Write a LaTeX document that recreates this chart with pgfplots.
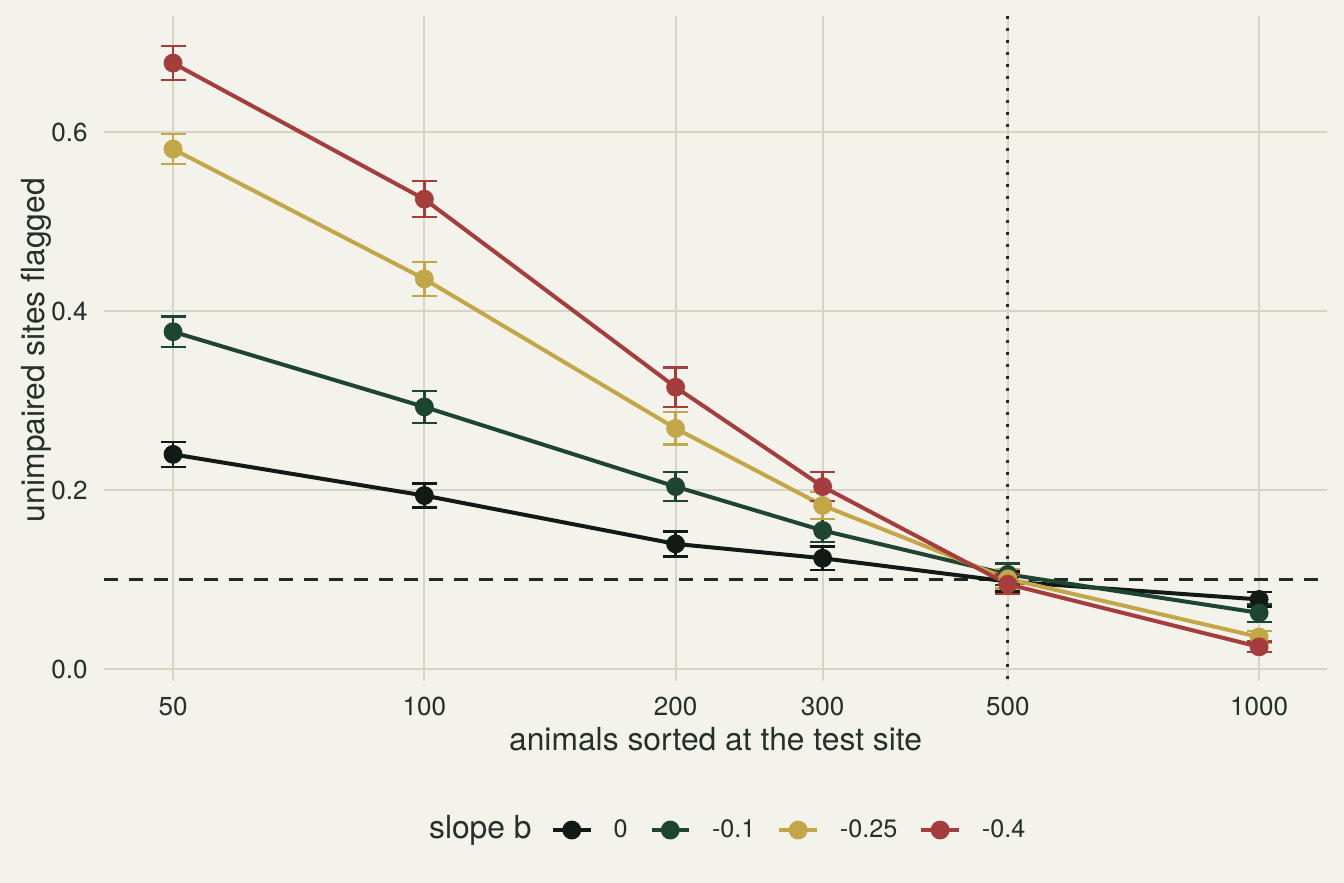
\documentclass[border=0pt]{standalone}
\usepackage{fontspec}
\setmainfont{TeX Gyre Heros}
\usepackage{pgfplots}
\usepackage{pgfplotstable}
\pgfplotsset{compat=1.18}

\definecolor{bgc}{HTML}{F3F2EB}
\definecolor{gridc}{HTML}{D6D5C4}
\definecolor{txt}{HTML}{26302A}
\definecolor{refc}{HTML}{1E2A22}
\definecolor{s0}{HTML}{111A15}
\definecolor{s1}{HTML}{1E4531}
\definecolor{s2}{HTML}{C3A647}
\definecolor{s3}{HTML}{A63D3D}

% n = animals sorted, y = share flagged, e = error half-width
\pgfplotstableread{
n y e
50 0.240 0.014
100 0.194 0.0135
200 0.140 0.014
300 0.124 0.013
500 0.098 0.011
1000 0.078 0.008
}\tzero
\pgfplotstableread{
n y e
50 0.377 0.017
100 0.293 0.018
200 0.204 0.016
300 0.155 0.013
500 0.106 0.012
1000 0.063 0.010
}\tone
\pgfplotstableread{
n y e
50 0.581 0.017
100 0.436 0.019
200 0.269 0.018
300 0.183 0.015
500 0.101 0.011
1000 0.036 0.007
}\ttwo
\pgfplotstableread{
n y e
50 0.677 0.019
100 0.525 0.020
200 0.315 0.022
300 0.204 0.016
500 0.095 0.011
1000 0.025 0.006
}\tthree

\pgfplotsset{
  ser/.style={
    color=#1, line width=2pt, mark=*, mark size=3.7pt,
    mark options={draw=none, fill=#1},
    error bars/y dir=both, error bars/y explicit,
    error bars/error bar style={line width=1.2pt, #1},
    error bars/error mark options={rotate=90, mark size=6.25pt, line width=1.2pt, #1},
  },
}

\begin{document}
\begin{tikzpicture}
\fill[bgc] (0,0) rectangle (672pt,441.5pt);
\begin{axis}[
  at={(52pt,101pt)}, anchor=south west,
  scale only axis, width=611.5pt, height=332.5pt,
  xmode=log, xmin=41.33, xmax=1206,
  ymin=-0.0131, ymax=0.7296,
  xtick={50,100,200,300,500,1000},
  xticklabels={50,100,200,300,500,1000},
  ytick={0,0.2,0.4,0.6},
  minor xtick={}, minor ytick={},
  /pgf/number format/assume math mode=true,
  yticklabel style={/pgf/number format/fixed, /pgf/number format/fixed zerofill,
    /pgf/number format/precision=1},
  xticklabel style={font=\fontsize{13}{15}\selectfont, text=txt, anchor=base, inner sep=0pt, yshift=-17.5pt},
  yticklabel style={font=\fontsize{13}{15}\selectfont, text=txt, anchor=east, inner sep=0pt, xshift=-8pt},
  tick style={draw=none},
  axis line style={draw=none},
  grid=major,
  major grid style={gridc, line width=1pt},
  xlabel={animals sorted at the test site},
  ylabel={unimpaired sites flagged},
  xlabel style={at={(axis description cs:0.5,-0.1038)}, anchor=base, inner sep=0pt,
    font=\fontsize{15.9}{18}\selectfont, text=txt},
  ylabel style={at={(axis description cs:-0.0556,0.4977)}, anchor=center, inner sep=0pt,
    font=\fontsize{15.9}{18}\selectfont, text=txt},
  legend columns=-1,
  legend image code/.code={
    \draw[mark repeat=2, mark phase=2, #1] plot coordinates {(0pt,0pt) (9.375pt,0pt) (18.75pt,0pt)};
  },
  legend style={at={(axis description cs:0.3655,-0.2241)}, anchor=west,
    draw=none, fill=none, inner sep=0pt, outer sep=0pt,
    font=\fontsize{12.6}{15}\selectfont, text=txt,
    nodes={inner sep=0pt},
    /tikz/every odd column/.append style={column sep=10.5pt},
    /tikz/every even column/.append style={column sep=11pt}},
]
\addplot[forget plot, mark=none, refc, line width=1.5pt, dash pattern=on 6.8pt off 5.7pt]
  coordinates {(41.33,0.1) (1206,0.1)};
\addplot[forget plot, mark=none, refc, line width=1.5pt, dash pattern=on 1.5pt off 4.5pt]
  coordinates {(500,0.7296) (500,-0.0131)};

\addplot[ser=s0] table[x=n, y=y, y error=e] {\tzero};
\addlegendentry{0}
\addplot[ser=s1] table[x=n, y=y, y error=e] {\tone};
\addlegendentry{-0.1}
\addplot[ser=s2] table[x=n, y=y, y error=e] {\ttwo};
\addlegendentry{-0.25}
\addplot[ser=s3] table[x=n, y=y, y error=e] {\tthree};
\addlegendentry{-0.4}
\end{axis}
\node[anchor=base west, inner sep=0pt, font=\fontsize{15.9}{18}\selectfont, text=txt]
  at (214.35pt,22pt) {slope b};
\end{tikzpicture}
\end{document}
